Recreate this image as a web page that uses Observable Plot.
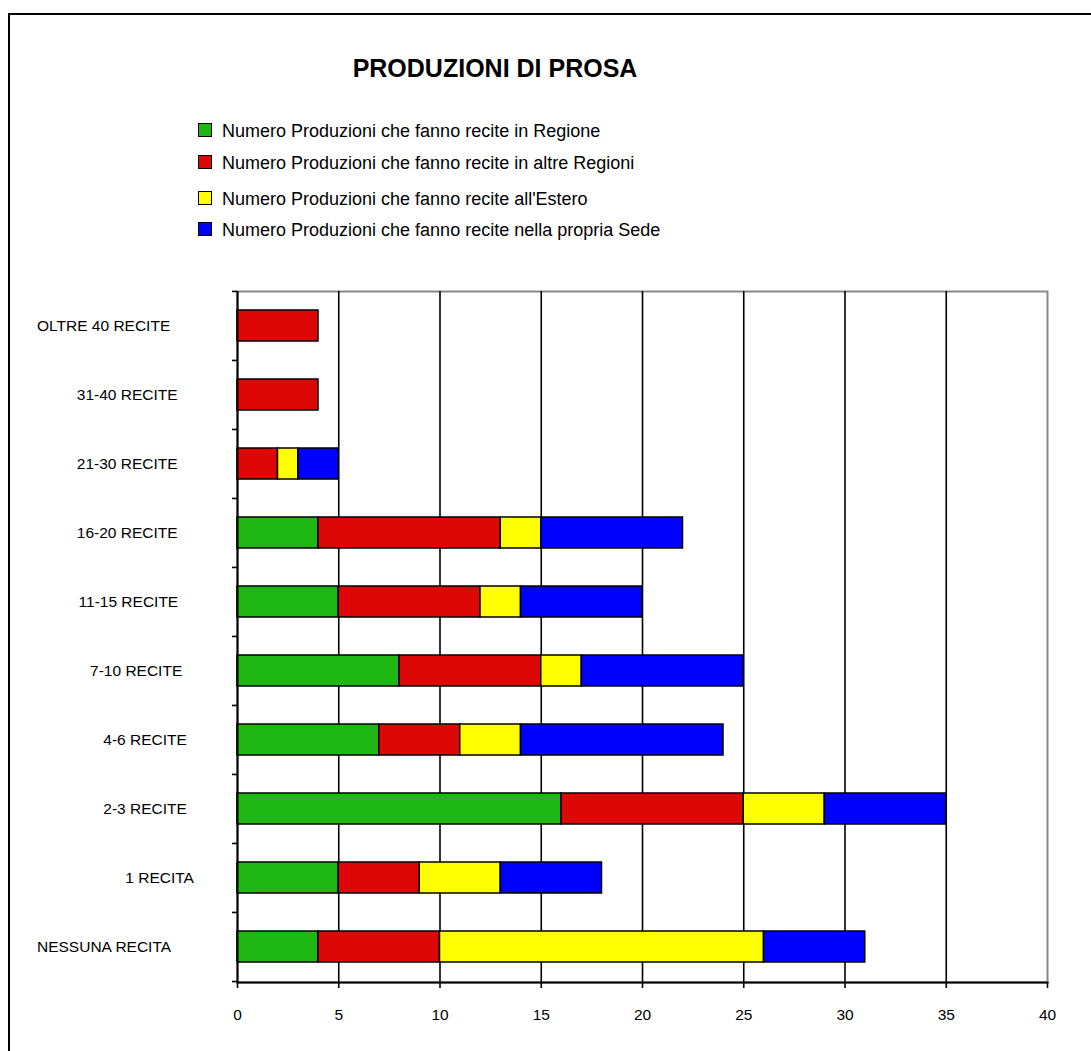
<!DOCTYPE html>
<html>
<head>
<meta charset="utf-8">
<script src="https://cdn.jsdelivr.net/npm/d3@7"></script>
<script src="https://cdn.jsdelivr.net/npm/@observablehq/plot@0.6"></script>
<style>
  html, body { margin: 0; padding: 0; background: #fff; }
  body { width: 1091px; height: 1051px; overflow: hidden; position: relative;
         font-family: "Liberation Sans", Arial, sans-serif; color: #000; }
  #frame { position: absolute; left: 8px; top: 13px; width: 1200px; height: 1200px;
           border-left: 2.5px solid #000; border-top: 2.5px solid #000; pointer-events: none; }
  #header { position: relative; height: 250px; }
  #title { position: absolute; left: 0; width: 990px; top: 56px; text-align: center;
           font-weight: bold; font-size: 25px; line-height: 25px; }
  .row { position: absolute; left: 0; width: 900px; height: 20px; font-size: 18px; line-height: 18px; white-space: nowrap; }
  .sw { position: absolute; left: 198px; top: 1px; width: 12px; height: 12px; border: 1.6px solid #000; }
  .lt { position: absolute; left: 222px; top: 0; }
  svg { display: block; }
</style>
</head>
<body>
<div id="frame"></div>
<div id="header">
  <div id="title">PRODUZIONI DI PROSA</div>
</div>
<script>
// ---- data ----
const categories = ["OLTRE 40 RECITE", "31-40 RECITE", "21-30 RECITE", "16-20 RECITE", "11-15 RECITE",
                    "7-10 RECITE", "4-6 RECITE", "2-3 RECITE", "1 RECITA", "NESSUNA RECITA"];
const seriesNames = [
  "Numero Produzioni che fanno recite in Regione",
  "Numero Produzioni che fanno recite in altre Regioni",
  "Numero Produzioni che fanno recite all'Estero",
  "Numero Produzioni che fanno recite nella propria Sede"
];
const seriesColors = ["#1fb714", "#dd0806", "#ffff00", "#0000ff"];
const regione      = [0, 0, 0, 4, 5, 8, 7, 16, 5, 4];
const altreRegioni = [4, 4, 2, 9, 7, 7, 4, 9, 4, 6];
const estero       = [0, 0, 1, 2, 2, 2, 3, 4, 4, 16];
const sede         = [0, 0, 2, 7, 6, 8, 10, 6, 5, 5];
const xTicks = [0, 5, 10, 15, 20, 25, 30, 35, 40];

const seriesValues = [regione, altreRegioni, estero, sede];
const data = categories.flatMap((cat, i) =>
  seriesValues.map((vals, s) => ({cat, series: seriesNames[s], value: vals[i]}))
).filter(d => d.value > 0);

// ---- legend (HTML, above the svg) ----
const header = document.getElementById("header");
const legendTops = [122, 154, 190, 221];
seriesNames.forEach((name, i) => {
  const row = document.createElement("div");
  row.className = "row";
  row.style.top = legendTops[i] + "px";
  const sw = document.createElement("div");
  sw.className = "sw";
  sw.style.background = seriesColors[i];
  const lt = document.createElement("div");
  lt.className = "lt";
  lt.textContent = name;
  row.appendChild(sw);
  row.appendChild(lt);
  header.appendChild(row);
});

// ---- chart ----
const W = 1091, H = 801, mt = 41, mb = 69, ml = 237, mr = 44;
const step = (H - mt - mb) / categories.length;

const chart = Plot.plot({
  width: W, height: H,
  marginTop: mt, marginBottom: mb, marginLeft: ml, marginRight: mr,
  style: {fontFamily: "'Liberation Sans', Arial, sans-serif", fontSize: "15.5px", color: "#000", background: "#fff", overflow: "visible"},
  x: {domain: [0, 40]},
  y: {domain: categories, paddingInner: 0.55, paddingOuter: 0.275},
  color: {domain: seriesNames, range: seriesColors},
  marks: [
    Plot.frame({stroke: "#888", strokeWidth: 2}),
    Plot.ruleX(xTicks.filter(t => t > 0 && t < 40), {stroke: "#000", strokeWidth: 1.6}),
    Plot.barX(data, {x: "value", y: "cat", fill: "series", stroke: "#000", strokeWidth: 1.5}),
    Plot.ruleX([0], {stroke: "#000", strokeWidth: 2}),
    Plot.frame({anchor: "bottom", stroke: "#000", strokeWidth: 2}),
    Plot.axisX({ticks: xTicks, tickSize: 6, tickPadding: 20, fontSize: 15.5, strokeWidth: 1.6, label: null}),
    Plot.axisY({tickSize: 5, tickFormat: () => "", dy: -step / 2, strokeWidth: 1.6, label: null}),
    Plot.axisY({ticks: [categories[categories.length - 1]], tickSize: 5, tickFormat: () => "", dy: step / 2, strokeWidth: 1.6, label: null}),
    Plot.axisY({tickSize: 0, tickPadding: 40, fontSize: 15.5, label: null})
  ]
});
document.body.appendChild(chart);

// Excel-like placement of the category labels: centred in the label area, kept inside the left edge
const svgRect = chart.getBoundingClientRect();
chart.querySelectorAll('[aria-label="y-axis tick label"] text').forEach(t => {
  if (!t.textContent.trim()) return;
  const r = t.getBoundingClientRect();
  const w = r.width;
  const cur = r.left - svgRect.left + w / 2;
  const want = Math.max(232 - 1.04 * w, 37 + w / 2);
  t.setAttribute("x", (+t.getAttribute("x") || 0) + (want - cur));
});
</script>
</body>
</html>
